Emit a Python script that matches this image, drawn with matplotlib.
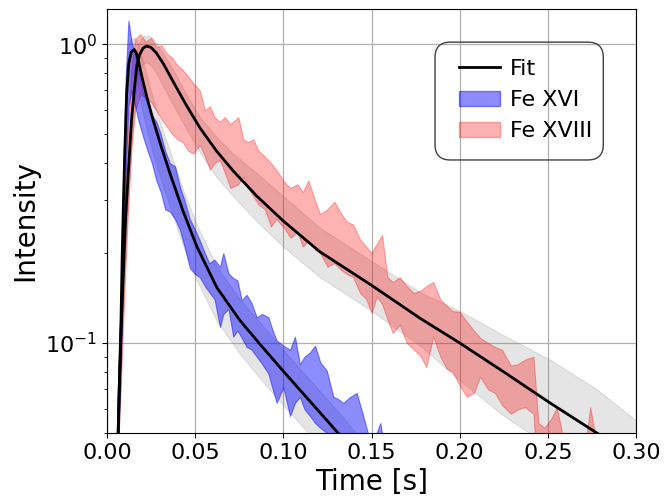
import numpy as np
import matplotlib
matplotlib.use("Agg")
import matplotlib.pyplot as plt
from matplotlib.lines import Line2D
from matplotlib.patches import Patch, FancyBboxPatch
from matplotlib.legend_handler import HandlerLine2D, HandlerPatch

# Fe XVI fit curve and its uncertainty band
t16_fit = [0.0062, 0.0068, 0.0074, 0.0080, 0.0087, 0.0094, 0.0102, 0.0112, 0.0124, 0.0138,
           0.0155, 0.0168, 0.0182, 0.0200, 0.0225, 0.0261, 0.0305, 0.0357, 0.0431, 0.0510,
           0.0624, 0.0754, 0.0868, 0.1020, 0.1170, 0.1310, 0.1400]
fit16 = [0.045, 0.065, 0.088, 0.12, 0.20, 0.30, 0.45, 0.68, 0.86, 0.94,
         0.96, 0.93, 0.86, 0.77, 0.67, 0.56, 0.46, 0.37, 0.277, 0.21,
         0.153, 0.119, 0.099, 0.078, 0.062, 0.050, 0.0435]
unc16_lo = [0.035, 0.05, 0.068, 0.09, 0.14, 0.21, 0.33, 0.50, 0.66, 0.78,
            0.80, 0.76, 0.69, 0.60, 0.52, 0.43, 0.355, 0.285, 0.213, 0.162,
            0.118, 0.092, 0.076, 0.060, 0.048, 0.038, 0.033]
unc16_hi = [0.06, 0.085, 0.115, 0.16, 0.26, 0.38, 0.60, 0.85, 1.00, 1.04,
            1.05, 1.03, 0.98, 0.90, 0.79, 0.66, 0.54, 0.44, 0.327, 0.248,
            0.18, 0.14, 0.117, 0.092, 0.073, 0.059, 0.051]

# Fe XVIII fit curve and its uncertainty band
t18_fit = [0.0062, 0.0070, 0.0083, 0.0095, 0.0106, 0.0120, 0.0140, 0.0155, 0.0170, 0.0185,
           0.0205, 0.0225, 0.0250, 0.0280, 0.0320, 0.0386, 0.0450, 0.0527, 0.0620, 0.0715,
           0.0850, 0.1000, 0.1207, 0.1500, 0.1775, 0.2000, 0.2250, 0.2512, 0.2777, 0.3000]
fit18 = [0.045, 0.07, 0.12, 0.18, 0.26, 0.36, 0.56, 0.70, 0.85, 0.92,
         0.97, 0.985, 0.975, 0.935, 0.86, 0.73, 0.625, 0.525, 0.44, 0.377,
         0.31, 0.256, 0.202, 0.156, 0.121, 0.100, 0.080, 0.063, 0.050, 0.041]
unc18_lo = [0.038, 0.058, 0.10, 0.15, 0.22, 0.30, 0.47, 0.60, 0.74, 0.81,
            0.86, 0.87, 0.85, 0.80, 0.72, 0.61, 0.52, 0.435, 0.36, 0.31,
            0.255, 0.21, 0.166, 0.128, 0.098, 0.075, 0.057, 0.045, 0.035, 0.028]
unc18_hi = [0.053, 0.083, 0.14, 0.21, 0.30, 0.42, 0.64, 0.80, 0.95, 1.02,
            1.06, 1.07, 1.06, 1.01, 0.93, 0.80, 0.68, 0.57, 0.49, 0.43,
            0.37, 0.31, 0.243, 0.188, 0.148, 0.128, 0.106, 0.088, 0.070, 0.055]

# Fe XVI measured intensity range
t16 = [0.0060, 0.0075, 0.0090, 0.0105, 0.0122, 0.0140, 0.0160, 0.0180, 0.0205, 0.0230,
       0.0255, 0.0280, 0.0305, 0.0330, 0.0357, 0.0386, 0.0414, 0.0440, 0.0470, 0.0500,
       0.0527, 0.0555, 0.0580, 0.0610, 0.0641, 0.0660, 0.0689, 0.0716, 0.0740, 0.0764,
       0.0792, 0.0820, 0.0849, 0.0880, 0.0915, 0.0940, 0.0962, 0.1000, 0.1038, 0.1066,
       0.1094, 0.1120, 0.1151, 0.1180, 0.1210, 0.1246, 0.1284, 0.1310, 0.1340, 0.1378,
       0.1416, 0.1450, 0.1500, 0.1550, 0.1580]
hi16 = [0.06, 0.12, 0.30, 0.75, 1.20, 1.02, 0.92, 0.80, 0.69, 0.63,
        0.58, 0.55, 0.50, 0.44, 0.40, 0.39, 0.333, 0.30, 0.26, 0.239,
        0.22, 0.20, 0.185, 0.19, 0.18, 0.20, 0.171, 0.165, 0.162, 0.139,
        0.145, 0.136, 0.122, 0.125, 0.122, 0.11, 0.102, 0.098, 0.095, 0.105,
        0.085, 0.09, 0.093, 0.098, 0.086, 0.081, 0.066, 0.065, 0.063, 0.066,
        0.068, 0.058, 0.045, 0.054, 0.042]
lo16 = [0.04, 0.07, 0.15, 0.35, 0.62, 0.70, 0.62, 0.55, 0.49, 0.44,
        0.40, 0.35, 0.32, 0.28, 0.275, 0.26, 0.239, 0.21, 0.178, 0.17,
        0.166, 0.155, 0.148, 0.14, 0.113, 0.125, 0.13, 0.105, 0.11, 0.104,
        0.097, 0.095, 0.09, 0.085, 0.079, 0.07, 0.063, 0.071, 0.057, 0.063,
        0.066, 0.06, 0.057, 0.054, 0.052, 0.05, 0.04, 0.04, 0.04, 0.04,
        0.04, 0.04, 0.035, 0.035, 0.035]

# Fe XVIII measured intensity range
t18 = [0.0060, 0.0080, 0.0100, 0.0120, 0.0140, 0.0160, 0.0190, 0.0220, 0.0250, 0.0280,
       0.0310, 0.0340, 0.0370, 0.0400, 0.0430, 0.0460, 0.0490, 0.0527, 0.0556, 0.0584,
       0.0610, 0.0640, 0.0669, 0.0700, 0.0745, 0.0773, 0.0800, 0.0830, 0.0860, 0.0896,
       0.0930, 0.0960, 0.1010, 0.1040, 0.1080, 0.1110, 0.1142, 0.1180, 0.1208, 0.1250,
       0.1290, 0.1330, 0.1360, 0.1396, 0.1435, 0.1470, 0.1500, 0.1530, 0.1560, 0.1590,
       0.1620, 0.1660, 0.1700, 0.1740, 0.1780, 0.1810, 0.1850, 0.1890, 0.1927, 0.1960,
       0.2000, 0.2040, 0.2080, 0.2116, 0.2160, 0.2200, 0.2240, 0.2290, 0.2330, 0.2370,
       0.2418, 0.2446, 0.2480, 0.2520, 0.2550, 0.2590, 0.2630, 0.2670, 0.2710, 0.2740,
       0.2780]
hi18 = [0.055, 0.12, 0.28, 0.52, 0.85, 1.04, 1.08, 1.02, 1.05, 0.98,
        0.99, 0.93, 0.90, 0.85, 0.82, 0.78, 0.74, 0.70, 0.60, 0.62,
        0.57, 0.55, 0.57, 0.54, 0.57, 0.48, 0.47, 0.48, 0.44, 0.42,
        0.40, 0.38, 0.343, 0.33, 0.34, 0.32, 0.35, 0.30, 0.27, 0.28,
        0.297, 0.27, 0.255, 0.249, 0.222, 0.21, 0.20, 0.215, 0.23, 0.166,
        0.16, 0.166, 0.155, 0.147, 0.15, 0.155, 0.16, 0.14, 0.133, 0.128,
        0.127, 0.118, 0.11, 0.104, 0.10, 0.097, 0.095, 0.084, 0.085, 0.088,
        0.090, 0.054, 0.052, 0.056, 0.061, 0.047, 0.04, 0.04, 0.045, 0.061,
        0.045]
lo18 = [0.04, 0.075, 0.15, 0.28, 0.45, 0.60, 0.68, 0.66, 0.64, 0.60,
        0.56, 0.53, 0.50, 0.48, 0.47, 0.44, 0.43, 0.46, 0.42, 0.38,
        0.40, 0.41, 0.37, 0.33, 0.34, 0.36, 0.33, 0.31, 0.29, 0.28,
        0.245, 0.26, 0.24, 0.225, 0.235, 0.21, 0.22, 0.205, 0.20, 0.18,
        0.185, 0.175, 0.17, 0.166, 0.147, 0.14, 0.126, 0.143, 0.135, 0.12,
        0.108, 0.115, 0.10, 0.095, 0.09, 0.083, 0.105, 0.09, 0.082, 0.08,
        0.072, 0.066, 0.068, 0.077, 0.07, 0.068, 0.062, 0.058, 0.06, 0.061,
        0.058, 0.03, 0.03, 0.03, 0.03, 0.03, 0.03, 0.03, 0.03, 0.03,
        0.03]

fig = plt.figure(figsize=(6.64, 5.04), dpi=100)
ax = fig.add_axes([0.161, 0.141, 0.797, 0.841])

# fit uncertainty (grey)
ax.fill_between(t16_fit, unc16_lo, unc16_hi, color='gray', alpha=0.2, lw=0.8)
ax.fill_between(t18_fit, unc18_lo, unc18_hi, color='gray', alpha=0.2, lw=0.8)

# data ranges
ax.fill_between(t18, lo18, hi18, color='red', alpha=0.3, lw=0.8)
ax.fill_between(t16, lo16, hi16, color='blue', alpha=0.45, lw=0.8)

# fits
ax.plot(t16_fit, fit16, color='black', lw=2)
ax.plot(t18_fit, fit18, color='black', lw=2)

ax.set_yscale('log')
ax.set_xlim(0, 0.30)
ax.set_ylim(0.05, 1.31)
ax.grid(True, which='major', color='#b0b0b0', lw=0.9)
ax.set_axisbelow(True)
ax.tick_params(labelsize=16)
ax.set_xticks([0.00, 0.05, 0.10, 0.15, 0.20, 0.25, 0.30])
ax.set_xticklabels(['0.00', '0.05', '0.10', '0.15', '0.20', '0.25', '0.30'])
ax.set_xlabel('Time [s]', fontsize=20)
ax.set_ylabel('Intensity', fontsize=20)

handles = [Line2D([], [], color='black', lw=2),
           Patch(color='blue', alpha=0.45),
           Patch(color='red', alpha=0.3)]
leg = ax.legend(handles, ['Fit', 'Fe XVI', 'Fe XVIII'], loc='upper right',
                bbox_to_anchor=(0.938, 0.908), borderaxespad=0, fontsize=16,
                handlelength=2.45, handletextpad=0.45, borderpad=0.5,
                labelspacing=0.5, frameon=False,
                handler_map={Line2D: HandlerLine2D(xpad=0.63),
                             Patch: HandlerPatch(xpad=0.63)})

# rounded legend frame, a bit taller than the default one
box = FancyBboxPatch((0.620, 0.644), 0.318, 0.278, transform=ax.transAxes,
                     boxstyle='round,pad=0,rounding_size=0.029',
                     mutation_aspect=529 / 424, facecolor='none',
                     edgecolor='#404040', lw=1.0, zorder=5)
ax.add_patch(box)

fig.savefig('out.png', dpi=100)
